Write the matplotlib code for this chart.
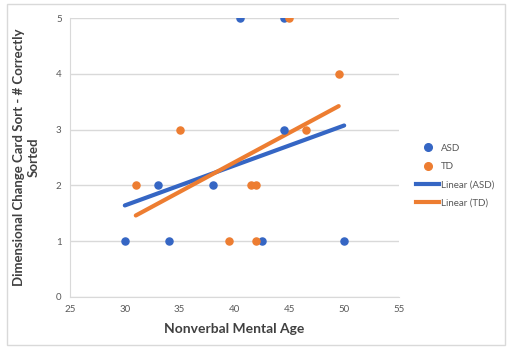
import numpy as np
import matplotlib
matplotlib.use("Agg")
import matplotlib.pyplot as plt
from matplotlib.lines import Line2D
from matplotlib.patches import Rectangle

asd_x = [30, 33, 34, 38, 40.5, 42.5, 44.5, 44.5, 50]
asd_y = [1, 2, 1, 2, 5, 1, 5, 3, 1]
td_x = [31, 35, 39.5, 41.5, 42, 42, 45, 46.5, 49.5]
td_y = [2, 3, 1, 2, 2, 1, 5, 3, 4]
x_ticks = [25, 30, 35, 40, 45, 50, 55]
y_ticks = [0, 1, 2, 3, 4, 5]

blue = "#3566C4"
orange = "#ED7D31"
grid_c = "#D9D9D9"
text_c = "#595959"

plt.rcParams['font.family'] = ['Lato', 'DejaVu Sans']

fig = plt.figure(figsize=(5.1, 3.54), dpi=100)
fig.patches.append(Rectangle((7/510, 1-345/354), 498/510, 341/354, transform=fig.transFigure,
                             fill=False, edgecolor="#D9D9D9", linewidth=1))
ax = fig.add_axes([70/510, 1-297/354, 329/510, 279/354])

for xs, ys, c in [(asd_x, asd_y, blue), (td_x, td_y, orange)]:
    m, b = np.polyfit(xs, ys, 1)
    xx = np.array([min(xs), max(xs)])
    ax.plot(xx, m*xx + b, color=c, lw=3, solid_capstyle='round', zorder=2)

ax.scatter(asd_x, asd_y, s=26, color=blue, zorder=3)
ax.scatter(td_x, td_y, s=26, color=orange, zorder=3)

ax.set_xlim(25, 55)
ax.set_ylim(0, 5)
ax.set_xticks(x_ticks)
ax.set_yticks(y_ticks)
ax.yaxis.grid(True, color=grid_c, lw=1)
ax.set_axisbelow(True)
ax.tick_params(length=0, labelsize=7, colors=text_c, pad=6)
for s in ['top', 'right']:
    ax.spines[s].set_visible(False)
for s in ['left', 'bottom']:
    ax.spines[s].set_color(grid_c)

ax.set_xlabel("Nonverbal Mental Age", fontsize=10, fontweight='bold', color="#404040", labelpad=6)
ax.set_ylabel("Dimensional Change Card Sort - # Correctly\nSorted", fontsize=9.5,
              fontweight='bold', color="#404040", labelpad=12, linespacing=1.2)

handles = [Line2D([], [], marker='o', ls='', color=blue, markersize=5.5),
           Line2D([], [], marker='o', ls='', color=orange, markersize=5.5),
           Line2D([], [], color=blue, lw=3),
           Line2D([], [], color=orange, lw=3)]
labels = ["ASD", "TD", "Linear (ASD)", "Linear (TD)"]
fig.legend(handles, labels, loc='upper left', bbox_to_anchor=(412/510, 1-140/354),
           frameon=False, fontsize=7, labelcolor=text_c, handlelength=2.4,
           handletextpad=0.2, labelspacing=0.95, borderaxespad=0)

fig.savefig("out.png", dpi=100)
